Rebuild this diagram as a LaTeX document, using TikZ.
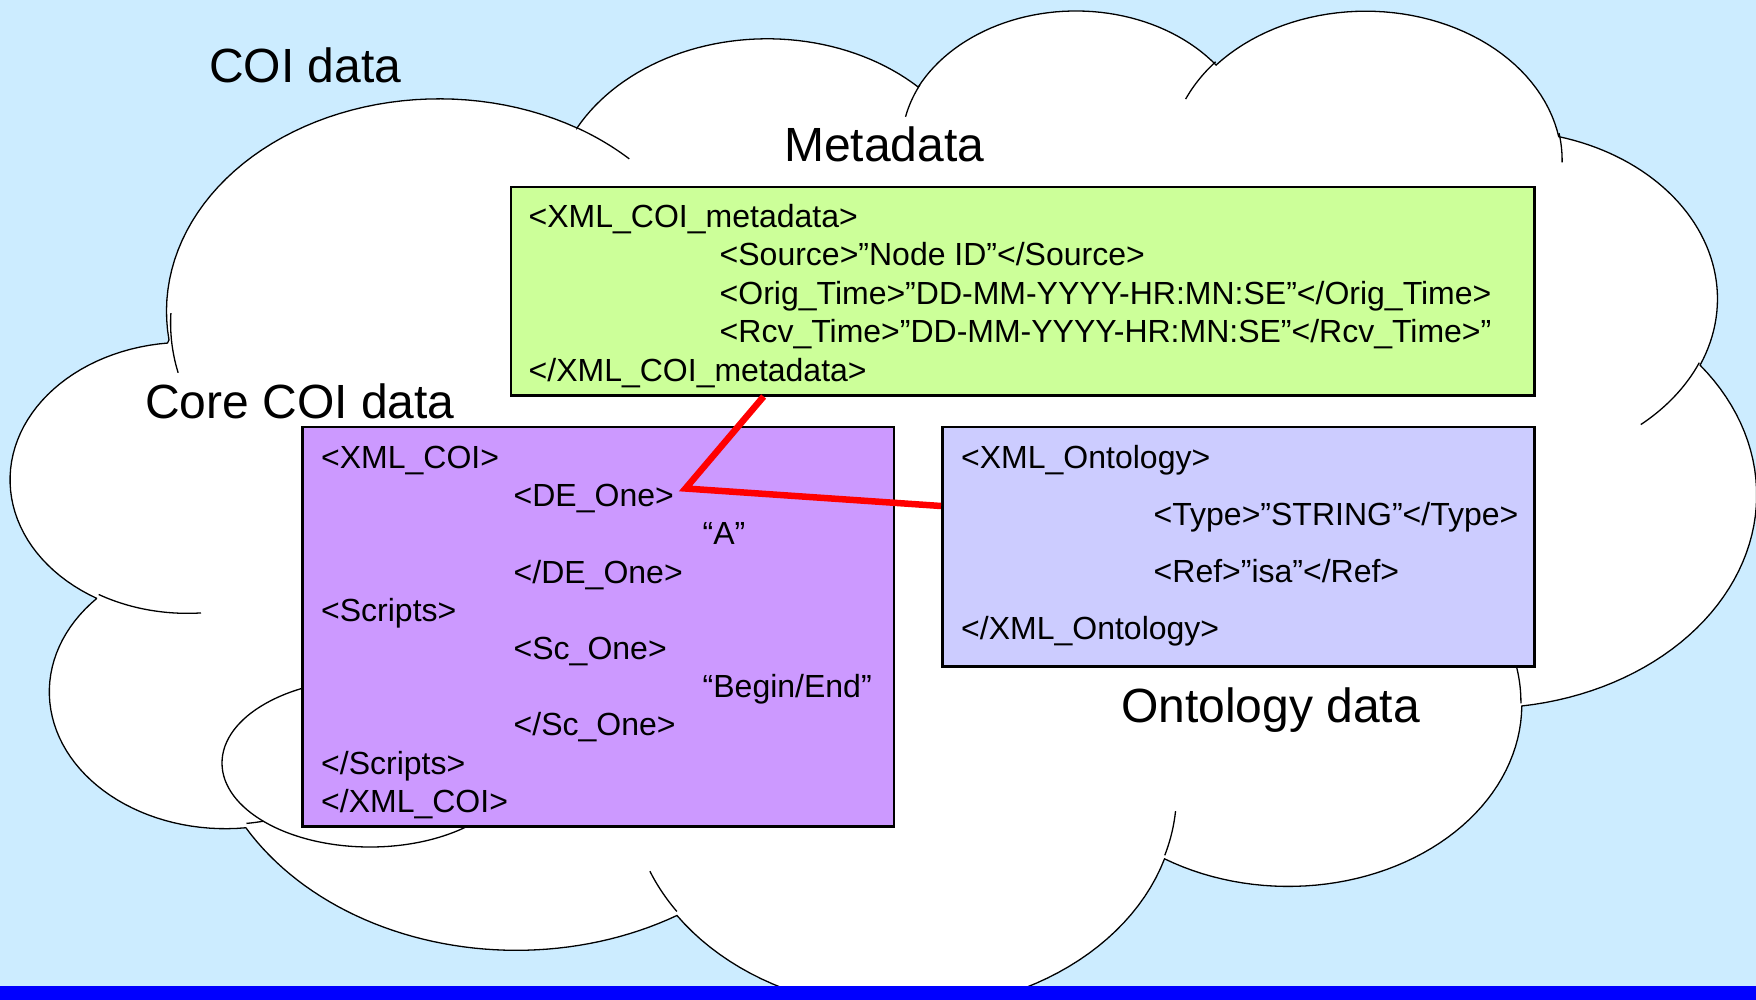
\documentclass[tikz,border=0pt]{standalone}
\usepackage{fontspec}
\setmainfont{Liberation Sans}
\definecolor{sky}{HTML}{CCECFF}
\definecolor{metagreen}{HTML}{CCFF99}
\definecolor{corepurple}{HTML}{CC99FF}
\definecolor{ontolilac}{HTML}{CCCCFF}
\definecolor{barblue}{HTML}{0000FF}
\definecolor{linkred}{HTML}{FF0000}

% Cloud outline: chained elliptical arcs in a 4320 x 4320 frame (y down).
% Angles are given as seen from the centre; they are turned into
% parametric angles before sampling the arc.
\newcommand\cldbegin{\gdef\cldpath{}}
\newcommand\cldmove[2]{\xdef\cldx{#1}\xdef\cldy{#2}%
  \xdef\cldpath{\unexpanded\expandafter{\cldpath} (#1,#2)}}
\newcommand\cldarc[4]{% #1 x radius, #2 y radius, #3 start angle, #4 sweep
  \pgfmathsetmacro\cldta{atan2((#1)*sin(#3),(#2)*cos(#3))}%
  \pgfmathsetmacro\cldtb{atan2((#1)*sin((#3)+(#4)),(#2)*cos((#3)+(#4)))}%
  \pgfmathsetmacro\cldd{\cldtb-\cldta}%
  \pgfmathsetmacro\cldd{\cldd-360*round((\cldd-(#4))/360)}%
  \pgfmathsetmacro\cldte{\cldta+\cldd}%
  \pgfmathsetmacro\cldcx{\cldx-(#1)*cos(\cldta)}%
  \pgfmathsetmacro\cldcy{\cldy-(#2)*sin(\cldta)}%
  \xdef\cldpath{\unexpanded\expandafter{\cldpath} -- plot[domain=\cldta:\cldte,samples=48,variable=\noexpand\t] ({\cldcx+#1*cos(\noexpand\t)},{\cldcy+#2*sin(\noexpand\t)})}%
  \pgfmathsetmacro\cldnx{\cldcx+(#1)*cos(\cldte)}%
  \pgfmathsetmacro\cldny{\cldcy+(#2)*sin(\cldte)}%
  \xdef\cldx{\cldnx}\xdef\cldy{\cldny}%
}

\tikzset{
  box/.style={draw=black, line width=2.5pt, anchor=north west, inner sep=0pt},
  code/.style={anchor=base west, inner sep=0pt, font=\fontsize{32}{38}\selectfont},
  title/.style={anchor=base west, inner sep=0pt, font=\fontsize{48}{58}\selectfont},
  link/.style={draw=linkred, line width=6.5pt},
  cloudline/.style={draw=black, line width=1.3pt},
}

\begin{document}
\begin{tikzpicture}[x=1pt, y=-1pt]
\useasboundingbox (0,0) rectangle (1756,1000);
\clip (0,0) rectangle (1756,1000);
\fill[sky] (0,0) rectangle (1756,1000);

% outer cloud contour
\cldbegin
\cldmove{390}{1437}
\cldarc{675.3}{919.0}{-190.4875}{123.7805}
\cldarc{533.3}{726.7}{-144.1024}{89.9452}
\cldarc{436.5}{594.5}{-145.8079}{99.7230}
\cldarc{485.7}{659.5}{-130.9861}{117.2417}
\cldarc{533.3}{727.3}{-78.7089}{109.0269}
\cldarc{677.5}{922.0}{-46.2673}{130.2690}
\cldarc{578.5}{786.7}{0.6250}{114.0333}
\cldarc{675.2}{921.5}{22.4516}{115.1726}
\cldarc{772.0}{1054.3}{66.2426}{75.7110}
\cldarc{436.0}{591.8}{-274.9421}{146.7356}
\cldarc{434.5}{594.5}{-246.8285}{152.5189}
\let\cloudouter\cldpath

% inner folds of the cloud
\cldbegin
\cldmove{469.3}{2617.7}\cldarc{434.5}{594.5}{86.7420}{26.4295}
\cldmove{692.8}{3489.9}\cldarc{436.0}{591.8}{73.6105}{11.4475}
\cldmove{1647.8}{3909.0}\cldarc{675.2}{921.5}{137.6242}{14.0811}
\cldmove{2882.7}{3475.1}\cldarc{675.2}{921.5}{6.4533}{15.9984}
\cldmove{3412.9}{2295.4}\cldarc{578.5}{786.7}{-70.2924}{70.9174}
\cldmove{4179.8}{1535.4}\cldarc{533.3}{727.3}{30.3180}{27.7515}
\cldmove{3832.4}{542.6}\cldarc{485.7}{659.5}{-13.7443}{14.8589}
\cldmove{2907.8}{395.2}\cldarc{485.7}{659.5}{-149.1815}{18.1954}
\cldmove{2214.1}{472.0}\cldarc{436.5}{594.5}{-163.4943}{17.6864}
\cldmove{1400.0}{519.2}\cldarc{675.3}{919.0}{-66.7070}{12.3194}
\cldmove{412.7}{1578.9}\cldarc{675.3}{919.0}{161.9101}{21.7484}
\let\cloudfolds\cldpath

\begin{scope}[shift={(11.5,7.7)}, xscale=0.4038, yscale=0.2312]
  \filldraw[fill=white, cloudline] \cloudouter -- cycle;
  \draw[cloudline] \cloudfolds;
\end{scope}

% small puff in the lower left, mostly behind the core box
\filldraw[fill=white, cloudline] (370,763) ellipse [x radius=148, y radius=84];

% labels
\node[title] (lcoi)  at (209,83)   {COI data};
\node[title] (lmeta) at (784,162)  {Metadata};
\node[title] (lcore) at (145,418)  {Core COI data};
\node[title] (lonto) at (1121,722) {Ontology data};

% boxes
\node[box, fill=metagreen,  minimum width=1023.4pt, minimum height=208pt]   (meta) at (509.6,186)   {};
\node[box, fill=corepurple, minimum width=591.6pt,  minimum height=399.4pt] (core) at (301,425.6)   {};
\node[box, fill=ontolilac,  minimum width=592pt,    minimum height=239.4pt] (onto) at (941,425.6)   {};

% metadata record
\node[code] (m1) at (528.5,227.5) {<XML\_COI\_metadata>};
\node[code] (m2) at (719.5,265.9) {<Source>”Node ID”</Source>};
\node[code] (m3) at (719.5,304.3) {<Orig\_Time>”DD-MM-YYYY-HR:MN:SE”</Orig\_Time>};
\node[code] (m4) at (719.5,342.7) {<Rcv\_Time>”DD-MM-YYYY-HR:MN:SE”</Rcv\_Time>”};
\node[code] (m5) at (528.5,381.1) {</XML\_COI\_metadata>};

% core record
\node[code] (c1)  at (321,468.5)   {<XML\_COI>};
\node[code] (c2)  at (513.5,506.7) {<DE\_One>};
\node[code] (c3)  at (702.5,544.9) {“A”};
\node[code] (c4)  at (513.5,583.1) {</DE\_One>};
\node[code] (c5)  at (321,621.3)   {<Scripts>};
\node[code] (c6)  at (513.5,659.5) {<Sc\_One>};
\node[code] (c7)  at (702.5,697.7) {“Begin/End”};
\node[code] (c8)  at (513.5,735.9) {</Sc\_One>};
\node[code] (c9)  at (321,774.1)   {</Scripts>};
\node[code] (c10) at (321,812.3)   {</XML\_COI>};

% ontology record
\node[code] (o1) at (961,468.5)    {<XML\_Ontology>};
\node[code] (o2) at (1153.5,525.5) {<Type>”STRING”</Type>};
\node[code] (o3) at (1153.5,582.5) {<Ref>”isa”</Ref>};
\node[code] (o4) at (961,639.5)    {</XML\_Ontology>};

% link from the metadata through the data element to the ontology
\coordinate (de) at (685.5,488.5);
\draw[link] ([xshift=254pt]meta.south west) -- (de) -- ([yshift=-80.4pt]onto.north west);

% footer bar
\fill[barblue] (0,986) rectangle (1756,1000);
\end{tikzpicture}
\end{document}
